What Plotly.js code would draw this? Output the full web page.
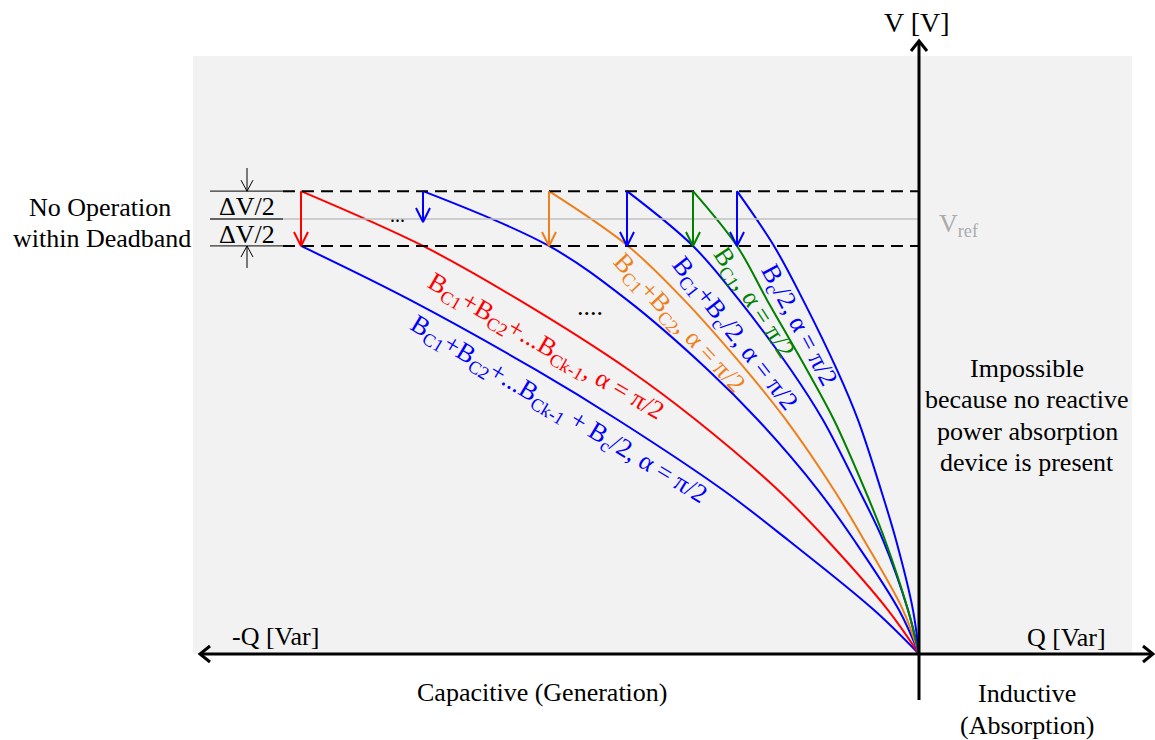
<!DOCTYPE html>
<html><head><meta charset="utf-8">
<script src="https://cdn.plot.ly/plotly-3.0.1.min.js"></script>
<style>html,body{margin:0;padding:0;background:#fff}#chart{width:1155px;height:740px}</style>
</head><body><div id="chart"></div>
<script>
// ---- data (Q in arbitrary units, V in p.u.) ----
const vUpper = 1.064;
const vRef = 1.0;
const vLower = 0.938;

const vLevels = [1.064, 0.938, 0.814, 0.653, 0.538, 0.377, 0.262, 0.101, 0];
const vBottom = [0.938, 0.814, 0.653, 0.538, 0.377, 0.262, 0.101, 0];

const qBlueK  = [-6.18, -5.09, -3.83, -3.01, -1.96, -1.31, -0.45, 0];      // Bc1+..+Bck-1+Bc/2
const qRed    = [-6.18, -4.96, -4.00, -2.90, -2.23, -1.41, -0.92, -0.31, 0]; // Bc1+..+Bck-1
const qBlue2  = [-4.96, -3.70, -2.92, -2.11, -1.61, -1.01, -0.65, -0.20, 0];
const qOrange = [-3.70, -2.91, -2.35, -1.73, -1.33, -0.85, -0.55, -0.16, 0]; // Bc1+Bc2
const qBlue3  = [-2.92, -2.26, -1.80, -1.28, -0.96, -0.60, -0.36, -0.11, 0]; // Bc1+Bc/2
const qGreen  = [-2.26, -1.82, -1.52, -1.12, -0.85, -0.54, -0.34, -0.11, 0]; // Bc1
const qBlue4  = [-1.82, -1.45, -1.16, -0.82, -0.61, -0.38, -0.23, -0.06, 0]; // Bc/2

const arrowQ     = [-6.18, -4.96, -3.70, -2.92, -2.26, -1.82];
const arrowVEnd  = [0.938, 0.993, 0.938, 0.938, 0.938, 0.938];
const arrowColor = ['#ff0000', '#0000ff', '#ef7f1a', '#0000ff', '#008000', '#0000ff'];

const labelTexts = [
  'B<sub>C1</sub>+B<sub>C2</sub>+...B<sub>Ck-1</sub>, α = π/2',
  'B<sub>C1</sub>+B<sub>C2</sub>+...B<sub>Ck-1</sub> + B<sub>c</sub>/2, α = π/2',
  'B<sub>C1</sub>+B<sub>C2</sub>, α = π/2',
  'B<sub>C1</sub>+B<sub>c</sub>/2, α = π/2',
  'B<sub>C1</sub>, α = π/2',
  'B<sub>c</sub>/2, α = π/2'
];

// ---- geometry helpers (pixel <-> data) ----
const W = 1155, H = 740;
const OX = 919, OY = 654;       // pixel position of origin
const PXQ = 100, PXV = 435;     // pixels per unit
const qx = px => (px - OX) / PXQ;
const vy = py => (OY - py) / PXV;
const dq = p => p / PXQ;
const dv = p => p / PXV;

const SERIF = '"Liberation Serif", "Times New Roman", Times, serif';
const RED = '#ff0000', BLUE = '#0000ff', ORANGE = '#ef7f1a', GREEN = '#008000';

const traces = [];
function curve(q, v, color) {
  traces.push({x: q, y: v, mode: 'lines', line: {color, width: 2, shape: 'spline', smoothing: 1}, hoverinfo: 'skip'});
}
curve(qBlueK, vBottom, BLUE);
curve(qRed, vLevels, RED);
curve(qBlue2, vLevels, BLUE);
curve(qOrange, vLevels, ORANGE);
curve(qBlue3, vLevels, BLUE);
curve(qGreen, vLevels, GREEN);
curve(qBlue4, vLevels, BLUE);

// deadband dashed lines and Vref line
const qDashStart = qx(283), qTickStart = qx(210);
traces.push({x: [qDashStart, 0], y: [vUpper, vUpper], mode: 'lines', line: {color: '#000', width: 2, dash: '12px,7px'}, hoverinfo: 'skip'});
traces.push({x: [qDashStart, 0], y: [vLower, vLower], mode: 'lines', line: {color: '#000', width: 2, dash: '12px,7px'}, hoverinfo: 'skip'});
traces.push({x: [qDashStart, 0], y: [vRef, vRef], mode: 'lines', line: {color: '#c0c0c0', width: 1.3}, hoverinfo: 'skip'});
traces.push({x: [qTickStart, qDashStart, null, qTickStart, qDashStart, null, qTickStart, qDashStart],
             y: [vUpper, vUpper, null, vRef, vRef, null, vLower, vLower],
             mode: 'lines', line: {color: '#333', width: 1.3}, hoverinfo: 'skip'});

// colored step arrows
for (let i = 0; i < arrowQ.length; i++) {
  const q = arrowQ[i], ve = arrowVEnd[i];
  const hw = dq(7), hh = dv(14);
  traces.push({x: [q, q, null, q - hw, q, q + hw], y: [vUpper, ve, null, ve + hh, ve, ve + hh],
               mode: 'lines', line: {color: arrowColor[i], width: 2}, hoverinfo: 'skip'});
}

// delta-V dimension arrows
{
  const q = qx(247), hw = dq(6), hh = dv(11);
  traces.push({x: [q, q, null, q - hw, q, q + hw], y: [vy(168), vUpper, null, vUpper + hh, vUpper, vUpper + hh],
               mode: 'lines', line: {color: '#000', width: 1}, hoverinfo: 'skip'});
  traces.push({x: [q, q, null, q - hw, q, q + hw], y: [vy(268), vLower, null, vLower - hh, vLower, vLower - hh],
               mode: 'lines', line: {color: '#000', width: 1}, hoverinfo: 'skip'});
}

// axes with arrowheads
const axW = 3;
traces.push({x: [qx(200), qx(1153)], y: [0, 0], mode: 'lines', line: {color: '#000', width: axW}, hoverinfo: 'skip'});
traces.push({x: [0, 0], y: [vy(700), vy(41)], mode: 'lines', line: {color: '#000', width: axW}, hoverinfo: 'skip'});
traces.push({x: [qx(1143), qx(1153), qx(1143)], y: [dv(8), 0, -dv(8)], mode: 'lines', line: {color: '#000', width: axW}, hoverinfo: 'skip'});
traces.push({x: [qx(210), qx(200), qx(210)], y: [dv(8), 0, -dv(8)], mode: 'lines', line: {color: '#000', width: axW}, hoverinfo: 'skip'});
traces.push({x: [-dq(8), 0, dq(8)], y: [vy(51), vy(41), vy(51)], mode: 'lines', line: {color: '#000', width: axW}, hoverinfo: 'skip'});

// ---- annotations ----
const ann = [];
function T(text, px, py, size, color, angle, xanchor) {
  ann.push({x: qx(px), y: vy(py), xref: 'x', yref: 'y', text, showarrow: false,
            font: {family: SERIF, size, color: color || '#000'},
            xanchor: xanchor || 'center', yanchor: 'middle', textangle: angle || 0});
}
T('V [V]', 917, 22, 28);
T('Q [Var]', 1066, 637, 26);
T('-Q [Var]', 275, 636, 26);
T('Capacitive (Generation)', 542, 692, 26);
T('Inductive', 1027, 693, 26);
T('(Absorption)', 1027, 725, 26);
T('No Operation', 100, 207, 26);
T('within Deadband', 102, 238, 26);
T('Impossible', 1027, 368, 26);
T('because no reactive', 1027, 399, 26);
T('power absorption', 1027, 431, 26);
T('device is present', 1027, 462, 26);
T('ΔV/2', 247, 206, 26);
T('ΔV/2', 247, 234, 26);
T('V<sub>ref</sub>', 937, 225, 26, '#aaaaaa', 0, 'left');
T('....', 590, 306, 26);
T('...', 397, 215, 20);

T(labelTexts[0], 545, 347, 26, RED, 30);
T(labelTexts[1], 558, 410, 26, BLUE, 31);
T(labelTexts[2], 678, 323, 26, ORANGE, 47);
T(labelTexts[3], 734, 334, 26, BLUE, 52);
T(labelTexts[4], 753, 303, 26, GREEN, 57);
T(labelTexts[5], 798, 325, 26, BLUE, 62);

const layout = {
  width: W, height: H, autosize: false,
  margin: {l: 0, r: 0, t: 0, b: 0, pad: 0},
  paper_bgcolor: '#ffffff', plot_bgcolor: 'rgba(0,0,0,0)',
  showlegend: false,
  xaxis: {range: [qx(0), qx(W)], showgrid: false, zeroline: false, showline: false, showticklabels: false, ticks: '', fixedrange: true},
  yaxis: {range: [vy(H), vy(0)], showgrid: false, zeroline: false, showline: false, showticklabels: false, ticks: '', fixedrange: true},
  shapes: [{type: 'rect', xref: 'x', yref: 'y', x0: qx(193), x1: qx(1132), y0: 0, y1: vy(56),
            fillcolor: '#f2f2f2', line: {width: 0}, layer: 'below'}],
  annotations: ann
};
Plotly.newPlot('chart', traces, layout, {staticPlot: true, displayModeBar: false});
</script>
</body></html>
